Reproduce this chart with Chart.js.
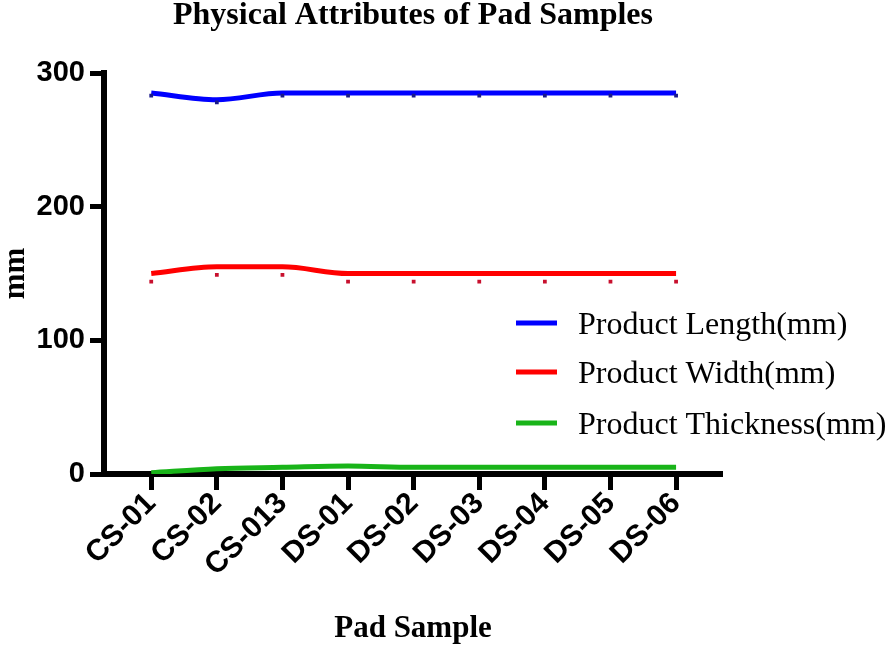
<!DOCTYPE html>
<html>
<head>
<meta charset="utf-8">
<script src="https://cdn.jsdelivr.net/npm/chart.js@4/dist/chart.umd.min.js"></script>
<style>
  html, body { margin: 0; padding: 0; background: #fff; }
  #wrap { width: 896px; height: 652px; position: relative; }
</style>
</head>
<body>
<div id="wrap"><canvas id="padChart"></canvas></div>
<script>
// data
const samples = ['CS-01', 'CS-02', 'CS-013', 'DS-01', 'DS-02', 'DS-03', 'DS-04', 'DS-05', 'DS-06'];
const seriesNames = ['Product Length(mm)', 'Product Width(mm)', 'Product Thickness(mm)'];
const lengthMm = [285, 280, 285, 285, 285, 285, 285, 285, 285];
const widthMm = [150, 155, 155, 150, 150, 150, 150, 150, 150];
const thicknessMm = [1, 4, 5, 6, 5, 5, 5, 5, 5];
// small marker points sitting just under the lines
const lengthMarks = [283, 278, 283, 283, 283, 283, 283, 283, 283];
const widthMarks = [144, 149, 149, 144, 144, 144, 144, 144, 144];
const yTicks = [0, 100, 200, 300];
const colors = ['#0000ff', '#ff0000', '#19b419'];

const toXY = arr => arr.map((v, i) => ({ x: i, y: v }));

const serif = '"Liberation Serif", "Times New Roman", serif';
const sans = '"Liberation Sans", Arial, sans-serif';

// title centred over the plot, and a legend laid over the right side
const extras = {
  id: 'extras',
  afterDraw(chart) {
    const { ctx, chartArea } = chart;
    ctx.save();
    ctx.fillStyle = '#000';
    ctx.font = 'bold 32px ' + serif;
    ctx.textAlign = 'center';
    ctx.textBaseline = 'alphabetic';
    ctx.fillText('Physical Attributes of Pad Samples', (chartArea.left + chartArea.right) / 2, 24);

    const rows = [323, 372, 423];
    ctx.font = '32px ' + serif;
    ctx.textAlign = 'left';
    seriesNames.forEach((name, i) => {
      ctx.strokeStyle = colors[i];
      ctx.lineWidth = 5;
      ctx.beginPath();
      ctx.moveTo(516, rows[i]);
      ctx.lineTo(557, rows[i]);
      ctx.stroke();
      ctx.fillStyle = '#000';
      ctx.fillText(name, 578, rows[i] + 11);
    });
    ctx.restore();
  }
};

const lineSet = (label, data, color) => ({
  label: label,
  data: toXY(data),
  borderColor: color,
  backgroundColor: color,
  borderWidth: 5,
  pointRadius: 0,
  cubicInterpolationMode: 'monotone',
  fill: false
});

const markSet = (data, color, style) => ({
  label: '',
  data: toXY(data),
  showLine: false,
  pointStyle: style,
  pointRadius: 1.6,
  borderWidth: 1.5,
  borderColor: color,
  backgroundColor: color
});

new Chart(document.getElementById('padChart').getContext('2d'), {
  type: 'line',
  data: {
    datasets: [
      markSet(lengthMarks, '#1a1a8a', 'rect'),
      markSet(widthMarks, '#c8102e', 'rect'),
      lineSet(seriesNames[0], lengthMm, colors[0]),
      lineSet(seriesNames[1], widthMm, colors[1]),
      lineSet(seriesNames[2], thicknessMm, colors[2])
    ]
  },
  options: {
    responsive: true,
    maintainAspectRatio: false,
    animation: false,
    layout: { padding: { top: 73, right: 174, left: 0, bottom: 0 } },
    plugins: {
      legend: { display: false },
      title: { display: false },
      tooltip: { enabled: false }
    },
    scales: {
      x: {
        type: 'linear',
        min: -0.72,
        max: 8.7,
        afterFit(scale) { scale.height = 178; },
        afterBuildTicks(scale) {
          scale.ticks = samples.map((s, i) => ({ value: i }));
        },
        border: { display: true, color: '#000', width: 6 },
        grid: { drawOnChartArea: false, drawTicks: true, tickLength: 16, tickWidth: 5, tickColor: '#000', color: '#000' },
        ticks: {
          autoSkip: false,
          minRotation: 45,
          maxRotation: 45,
          padding: -4,
          color: '#000',
          font: { family: sans, size: 30, weight: 'bold' },
          callback: v => samples[v]
        },
        title: {
          display: true,
          text: 'Pad Sample',
          color: '#000',
          padding: { top: 0, bottom: 4 },
          font: { family: serif, size: 31, weight: 'bold' }
        }
      },
      y: {
        min: 0,
        max: 300,
        afterFit(scale) { scale.width = 104; },
        afterBuildTicks(scale) {
          scale.ticks = yTicks.map(v => ({ value: v }));
        },
        border: { display: true, color: '#000', width: 6 },
        grid: { drawOnChartArea: false, drawTicks: true, tickLength: 14, tickWidth: 5, tickColor: '#000', color: '#000' },
        ticks: {
          padding: 5,
          color: '#000',
          font: { family: sans, size: 29, weight: 'bold' }
        },
        title: {
          display: true,
          text: 'mm',
          color: '#000',
          padding: { top: 0, bottom: 0 },
          font: { family: serif, size: 31, weight: 'bold', lineHeight: 1 }
        }
      }
    }
  },
  plugins: [extras]
});
</script>
</body>
</html>
